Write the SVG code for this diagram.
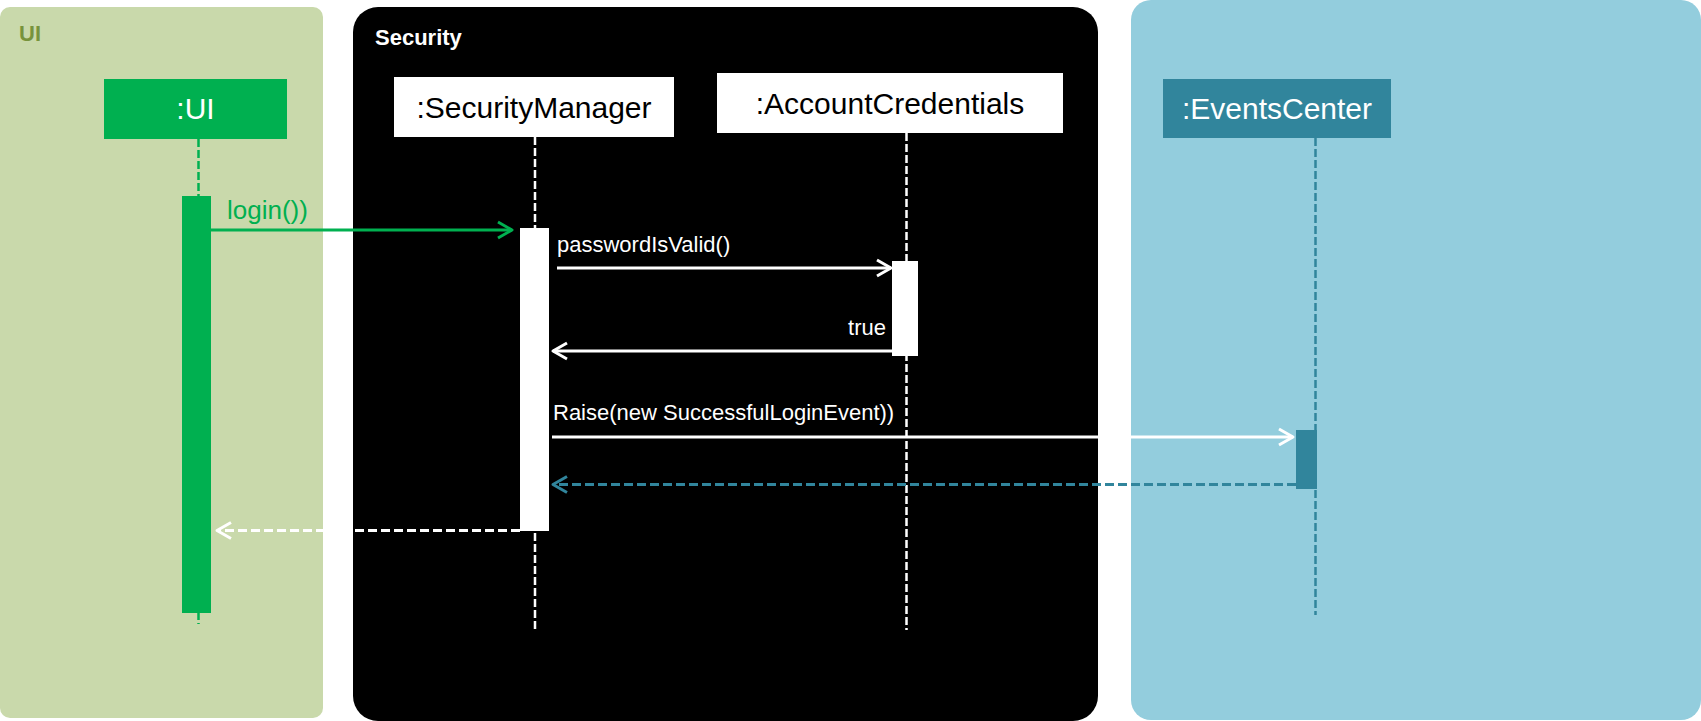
<svg xmlns="http://www.w3.org/2000/svg" width="1701" height="721" viewBox="0 0 1701 721">
  <style>
    .lbl { font-family: "Liberation Sans", Arial, sans-serif; }
    .name { font-size: 30px; text-anchor: middle; }
    .msg { font-size: 22px; fill: #FFFFFF; }
    .panel-title { font-size: 22px; font-weight: bold; }
    .life { fill: none; stroke-width: 2.5; stroke-dasharray: 8 3; }
    .arrow { fill: none; stroke-width: 3; }
    .dashed { stroke-dasharray: 9 4; }
  </style>
  <defs>
    <marker id="ah-green" viewBox="0 0 20 20" refX="17" refY="10" markerWidth="20" markerHeight="20" markerUnits="userSpaceOnUse" orient="auto">
      <path d="M3,2 L17,10 L3,18" fill="none" stroke="#00B050" stroke-width="3" stroke-dasharray="none" stroke-linejoin="round"/>
    </marker>
    <marker id="ah-white" viewBox="0 0 20 20" refX="17" refY="10" markerWidth="20" markerHeight="20" markerUnits="userSpaceOnUse" orient="auto">
      <path d="M3,2 L17,10 L3,18" fill="none" stroke="#FFFFFF" stroke-width="3" stroke-dasharray="none" stroke-linejoin="round"/>
    </marker>
    <marker id="ah-teal" viewBox="0 0 20 20" refX="17" refY="10" markerWidth="20" markerHeight="20" markerUnits="userSpaceOnUse" orient="auto">
      <path d="M3,2 L17,10 L3,18" fill="none" stroke="#31859C" stroke-width="3" stroke-dasharray="none" stroke-linejoin="round"/>
    </marker>
  </defs>

  <rect width="1701" height="721" fill="#FFFFFF"/>

  <!-- Frames -->
  <g id="frame-ui">
    <rect x="0" y="7" width="323" height="711" rx="10" fill="#C9D9AB"/>
    <text class="lbl panel-title" x="19" y="41" fill="#77933C">UI</text>
  </g>
  <g id="frame-security">
    <rect x="353" y="7" width="745" height="714" rx="25" fill="#000000"/>
    <text class="lbl panel-title" x="375" y="45" fill="#FFFFFF">Security</text>
  </g>
  <g id="frame-events">
    <rect x="1131" y="0" width="570" height="720" rx="20" fill="#93CDDD"/>
  </g>

  <!-- Lifelines (nodes) -->
  <g id="node-ui">
    <line class="life" x1="198.5" y1="139" x2="198.5" y2="624" stroke="#00B050"/>
    <rect x="104" y="79" width="183" height="60" fill="#00B050"/>
    <text class="lbl name" x="195.5" y="119" fill="#FFFFFF">:UI</text>
    <rect x="182" y="196" width="29" height="417" fill="#00B050"/>
  </g>
  <g id="node-securitymanager">
    <line class="life" x1="535" y1="137" x2="535" y2="630" stroke="#FFFFFF"/>
    <rect x="394" y="77" width="280" height="60" fill="#FFFFFF"/>
    <text class="lbl name" x="534" y="117.5" fill="#000000">:SecurityManager</text>
    <rect x="520" y="228" width="29" height="303" fill="#FFFFFF"/>
  </g>
  <g id="node-accountcredentials">
    <line class="life" x1="906.5" y1="133" x2="906.5" y2="630" stroke="#FFFFFF"/>
    <rect x="717" y="73" width="346" height="60" fill="#FFFFFF"/>
    <text class="lbl name" x="890" y="113.5" fill="#000000">:AccountCredentials</text>
    <rect x="892" y="261" width="26" height="95" fill="#FFFFFF"/>
  </g>
  <g id="node-eventscenter">
    <line class="life" x1="1315.5" y1="138" x2="1315.5" y2="615" stroke="#31859C"/>
    <rect x="1163" y="79" width="228" height="59" fill="#31859C"/>
    <text class="lbl name" x="1277" y="119" fill="#FFFFFF">:EventsCenter</text>
    <rect x="1296" y="430" width="21" height="59" fill="#31859C"/>
  </g>

  <!-- Connectors -->
  <g id="connectors">
    <line class="arrow" x1="211" y1="230" x2="512" y2="230" stroke="#00B050" marker-end="url(#ah-green)"/>
    <text class="lbl" x="227" y="219" font-size="26" fill="#00B050">login())</text>

    <line class="arrow" x1="557" y1="268" x2="891" y2="268" stroke="#FFFFFF" marker-end="url(#ah-white)"/>
    <text class="lbl msg" x="557" y="252">passwordIsValid()</text>

    <line class="arrow" x1="892" y1="351" x2="553" y2="351" stroke="#FFFFFF" marker-end="url(#ah-white)"/>
    <text class="lbl msg" x="886" y="335" text-anchor="end">true</text>

    <line class="arrow" x1="552" y1="437" x2="1293" y2="437" stroke="#FFFFFF" marker-end="url(#ah-white)"/>
    <text class="lbl msg" x="553" y="420">Raise(new SuccessfulLoginEvent))</text>

    <line class="arrow dashed" x1="1296" y1="484.5" x2="553" y2="484.5" stroke="#31859C" marker-end="url(#ah-teal)"/>

    <line class="arrow dashed" x1="520" y1="530.5" x2="217" y2="530.5" stroke="#FFFFFF" marker-end="url(#ah-white)"/>
  </g>
</svg>
